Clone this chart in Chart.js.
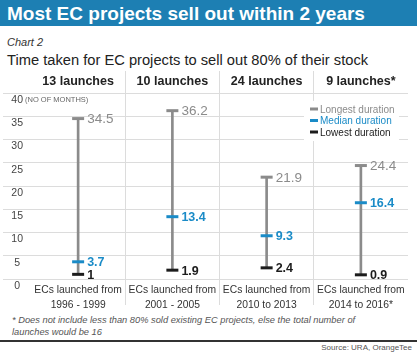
<!DOCTYPE html>
<html>
<head>
<meta charset="utf-8">
<script src="https://cdn.jsdelivr.net/npm/chart.js@4.4.1/dist/chart.umd.min.js"></script>
<style>
  body { margin: 0; width: 417px; height: 354px; overflow: hidden; background: #fff; position: relative;
         font-family: 'Liberation Sans', Arial, sans-serif; }
  #title { position: absolute; left: 0; top: 0; width: 417px; height: 26px; background: #1d7fb3; color: #fff;
           font-weight: bold; font-size: 19px; line-height: 27px; padding-left: 7px; box-sizing: border-box; white-space: nowrap; }
  #chartno { position: absolute; left: 7px; top: 36px; font-style: italic; font-size: 11px; color: #333; }
  #subtitle { position: absolute; left: 7px; top: 52px; font-size: 14.7px; color: #222; white-space: nowrap; }
  #wrap { position: absolute; left: 0; top: 68px; width: 417px; height: 246px; }
  #note { position: absolute; left: 12px; top: 314px; font-style: italic; font-size: 9.3px; line-height: 12px; color: #555; white-space: nowrap; }
  #rule { position: absolute; left: 0; top: 340px; width: 417px; height: 2px; background: #333; }
  #source { position: absolute; right: 5px; top: 343px; font-size: 8px; color: #555; }
</style>
</head>
<body>
<div id="title">Most EC projects sell out within 2 years</div>
<div id="chartno">Chart 2</div>
<div id="subtitle">Time taken for EC projects to sell out 80% of their stock</div>
<div id="wrap"><canvas id="chart" width="417" height="246"></canvas></div>
<div id="note">* Does not include less than 80% sold existing EC projects, else the total number of<br>launches would be 16</div>
<div id="rule"></div>
<div id="source">Source: URA, OrangeTee</div>

<script>
const headers = ['13 launches', '10 launches', '24 launches', '9 launches*'];
const periods = [
    ['ECs launched from', '1996 - 1999'],
    ['ECs launched from', '2001 - 2005'],
    ['ECs launched from', '2010 to 2013'],
    ['ECs launched from', '2014 to 2016*']
];
const longest = [34.5, 36.2, 21.9, 24.4];
const median = [3.7, 13.4, 9.3, 16.4];
const lowest = [1, 1.9, 2.4, 0.9];
const seriesNames = ['Longest duration', 'Median duration', 'Lowest duration'];
const yMin = 0;
const yMax = 40;
const yStep = 5;
const yUnit = '(NO OF MONTHS)';

const grey = '#8b8b8b';
const blue = '#1a8bc7';
const black = '#1c1c1c';
const lineGrey = '#dcdcdc';

Chart.defaults.font.family = "'Liberation Sans', Arial, sans-serif";

// vertical separators between columns only, not on the outer edges
function sepColor(ctx) {
    return (ctx.index > 0) ? lineGrey : 'rgba(0,0,0,0)';
}

function capSeries(label, data, color, font) {
    return {
        type: 'line',
        label: label,
        data: data,
        xAxisID: 'x',
        showLine: false,
        pointStyle: 'line',
        pointRadius: 6,
        pointHoverRadius: 6,
        pointBorderWidth: 3,
        pointBorderColor: color,
        borderColor: color,
        backgroundColor: color,
        valueColor: color,
        valueFont: font,
        order: 1
    };
}

const chartExtras = {
    id: 'chartExtras',
    afterDatasetsDraw(chart) {
        const ctx = chart.ctx;
        const area = chart.chartArea;

        // numbers next to each cap
        chart.data.datasets.forEach((ds, di) => {
            if (!ds.valueColor) return;
            const meta = chart.getDatasetMeta(di);
            ctx.save();
            ctx.fillStyle = ds.valueColor;
            ctx.font = ds.valueFont;
            ctx.textAlign = 'left';
            ctx.textBaseline = 'middle';
            meta.data.forEach((pt, i) => {
                ctx.fillText(String(ds.data[i]), pt.x + 9, pt.y + 1);
            });
            ctx.restore();
        });

        // legend box in the top right corner
        const x0 = area.right - 104;
        const y0 = area.top + 8;
        ctx.save();
        ctx.fillStyle = '#fff';
        ctx.fillRect(x0, y0, 95, 40);
        let row = 0;
        chart.data.datasets.forEach((ds) => {
            if (!ds.valueColor) return;
            const y = y0 + 8 + row * 11.5;
            ctx.strokeStyle = ds.valueColor;
            ctx.lineWidth = 3;
            ctx.beginPath();
            ctx.moveTo(x0 + 6, y);
            ctx.lineTo(x0 + 14, y);
            ctx.stroke();
            ctx.fillStyle = ds.valueColor;
            ctx.font = "10px 'Liberation Sans', Arial, sans-serif";
            ctx.textAlign = 'left';
            ctx.textBaseline = 'middle';
            ctx.fillText(ds.label, x0 + 16, y + 1);
            row++;
        });

        // unit note beside the top tick
        const yTop = chart.scales.y.getPixelForValue(yMax);
        ctx.fillStyle = '#666';
        ctx.font = "7.5px 'Liberation Sans', Arial, sans-serif";
        ctx.fillText(yUnit, 25, yTop + 7);
        ctx.restore();
    }
};

new Chart(document.getElementById('chart'), {
    type: 'bar',
    data: {
        labels: periods,
        datasets: [
            {
                type: 'bar',
                label: 'range',
                data: lowest.map((v, i) => [v, longest[i]]),
                xAxisID: 'x',
                backgroundColor: grey,
                barThickness: 2,
                order: 5
            },
            capSeries(seriesNames[0], longest, grey, "13.5px 'Liberation Sans', Arial, sans-serif"),
            capSeries(seriesNames[1], median, blue, "bold 12.5px 'Liberation Sans', Arial, sans-serif"),
            capSeries(seriesNames[2], lowest, black, "bold 12.5px 'Liberation Sans', Arial, sans-serif")
        ]
    },
    options: {
        responsive: false,
        animation: false,
        layout: { padding: { left: 3, right: 9, top: 0, bottom: 0 } },
        plugins: {
            legend: { display: false },
            tooltip: { enabled: false }
        },
        scales: {
            x: {
                type: 'category',
                position: 'bottom',
                offset: true,
                grid: { offset: true, drawOnChartArea: true, drawTicks: true, tickLength: 26, color: sepColor },
                border: { display: false },
                ticks: { padding: -22, font: { size: 10.3, lineHeight: 1.45 }, color: '#333', maxRotation: 0, autoSkip: false },
                afterFit(s) { s.height = 35; }
            },
            xTop: {
                type: 'category',
                position: 'top',
                labels: headers,
                offset: true,
                grid: { offset: true, drawOnChartArea: false, drawTicks: true, tickLength: 22, color: sepColor },
                border: { display: false },
                ticks: { padding: -18, font: { size: 12.5, weight: 'bold' }, color: '#222', maxRotation: 0, autoSkip: false },
                afterFit(s) { s.height = 25; }
            },
            y: {
                min: yMin,
                max: yMax,
                position: 'left',
                ticks: { stepSize: yStep, padding: -20, crossAlign: 'center', labelOffset: 7, font: { size: 10.5 }, color: '#444' },
                grid: { color: lineGrey, drawTicks: true, tickLength: 28 },
                border: { display: false },
                afterFit(s) { s.width = 28; }
            }
        }
    },
    plugins: [chartExtras]
});
</script>
</body>
</html>
